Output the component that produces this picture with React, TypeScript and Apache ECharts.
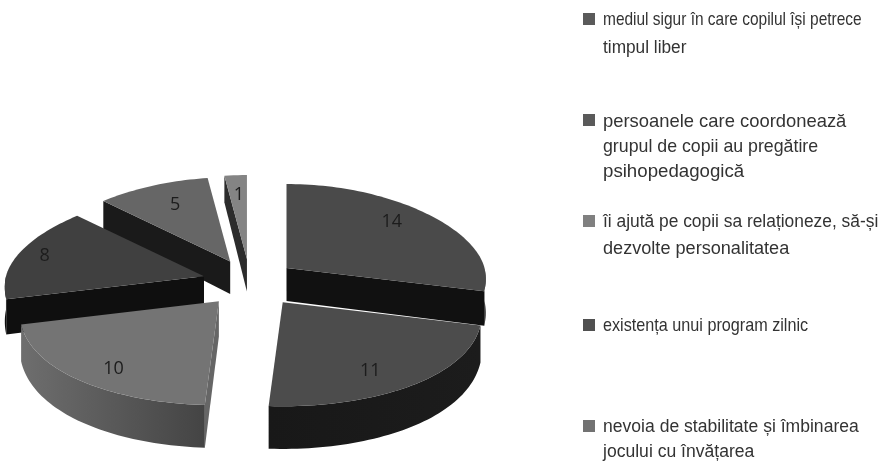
import React, { useEffect, useRef } from "react";
import * as echarts from "echarts";

const sliceValues = [14, 11, 10, 8, 5, 1];
const sliceLabels = ["14", "11", "10", "8", "5", "1"];
const topColors = ["#4a4a4a", "#4c4c4c", "#747474", "#404040", "#666666", "#848484"];
const faceColors = ["#111111", "#1a1a1a", "#666666", "#0f0f0f", "#1a1a1a", "#2c2c2c"];
const rimFrom = ["#141414", "#1c1c1c", "#444444", "#0f0f0f", "#1a1a1a", "#2c2c2c"];
const rimTo = ["#141414", "#181818", "#6e6e6e", "#0f0f0f", "#1a1a1a", "#2c2c2c"];
const paintRank = [3, 5, 4, 2, 1, 0];
const labelPullX = [0.68, 0.74, 0.82, 0.84, 0.64, 0.63];
const labelPullY = [0.92, 0.8, 0.83, 0.92, 0.77, 0.79];
const explodeNudgeX = [-1, 4, 0, 0, 1, 0];

const legendEntries = [
  ["mediul sigur în care copilul își petrece", "timpul liber"],
  ["persoanele care coordonează", "grupul de copii au pregătire", "psihopedagogică"],
  ["îi ajută pe copii sa relaționeze, să-și", "dezvolte personalitatea"],
  ["existența unui program zilnic"],
  ["nevoia de stabilitate și îmbinarea", "jocului cu învățarea"],
];
const legendColors = ["#5a5a5a", "#5a5a5a", "#808080", "#505050", "#727272"];
const legendFontSizes = [18, 18.5, 18.5, 18, 18.5];
const legendScales = [[0.86, 0.96], [0.995, 0.96, 1.01], [0.94, 0.98], [0.9], [0.95, 0.95]];
const legendTops = [19, 120, 221, 325, 426];
const legendSteps = [28, 25.5, 26, 0, 25];

const CX = 250, CY = 283, RX = 198, RY_BACK = 84, RY_FRONT = 104, EX = 48, EY = 24;
const PERSPECTIVE = 0.11;
const total = sliceValues.reduce((a, b) => a + b, 0);
const rad = (d: number) => (d * Math.PI) / 180;

function rimPoint(ax: number, ay: number, deg: number) {
  const c = Math.cos(rad(deg));
  const s = Math.sin(rad(deg));
  return [ax + RX * s * (1 - PERSPECTIVE * c), ay - (c > 0 ? RY_BACK : RY_FRONT) * c];
}
const lower = (p: number[]) => [p[0], p[1] + 33 + 0.07 * (p[1] - 268)];
function toPath(pts: number[][]) {
  return pts.map((p, i) => `${i ? "L" : "M"}${p[0].toFixed(2)} ${p[1].toFixed(2)}`).join(" ") + " Z";
}
function arc(ax: number, ay: number, a0: number, a1: number) {
  const pts: number[][] = [];
  const n = Math.max(2, Math.ceil(Math.abs(a1 - a0) / 1.5));
  for (let i = 0; i <= n; i++) pts.push(rimPoint(ax, ay, a0 + ((a1 - a0) * i) / n));
  return pts;
}

const renderItem = (params: any, api: any) => {
  const i = params.dataIndex;
  const value = api.value(0);
  let before = 0;
  for (let k = 0; k < i; k++) before += sliceValues[k];
  const a0 = (before / total) * 360;
  const a1 = ((before + value) / total) * 360;
  const mid = (a0 + a1) / 2;
  const ax = CX + EX * Math.sin(rad(mid)) + explodeNudgeX[i];
  const ay = CY - EY * Math.cos(rad(mid));
  const z = paintRank[i] * 10;
  const children: any[] = [];

  const face = (deg: number, fill: string) => {
    const p = rimPoint(ax, ay, deg);
    children.push({
      type: "path",
      shape: { pathData: toPath([[ax, ay], p, lower(p), lower([ax, ay])]) },
      style: { fill },
      z2: z + 1,
    });
  };
  if (a0 > 180) face(a0, faceColors[i]);
  if (a1 < 180) face(a1, faceColors[i]);

  const r0 = Math.max(a0, 90);
  const r1 = Math.min(a1, 270);
  if (r1 > r0) {
    const top = arc(ax, ay, r0, r1);
    const bottom = arc(ax, ay, r1, r0).map(lower);
    children.push({
      type: "path",
      shape: { pathData: toPath(top.concat(bottom)) },
      style: {
        fill: new echarts.graphic.LinearGradient(0, 0, 1, 0, [
          { offset: 0, color: rimTo[i] },
          { offset: 1, color: rimFrom[i] },
        ]),
      },
      z2: z + 2,
    });
  }

  children.push({
    type: "path",
    shape: { pathData: toPath([[ax, ay], ...arc(ax, ay, a0, a1)]) },
    style: { fill: topColors[i] },
    z2: z + 3,
  });
  const c = Math.cos(rad(mid));
  children.push({
    type: "text",
    style: {
      text: sliceLabels[i],
      x: ax + RX * labelPullX[i] * Math.sin(rad(mid)),
      y: ay - (c > 0 ? RY_BACK : RY_FRONT) * labelPullY[i] * c,
      fill: "#1c1c1c",
      font: '18px "Open Sans", sans-serif',
      align: "center",
      verticalAlign: "middle",
    },
    z2: 200,
  });
  return { type: "group", children };
};

function legendGraphics() {
  const out: any[] = [];
  legendEntries.forEach((lines, i) => {
    out.push({
      type: "rect",
      shape: { x: 583, y: legendTops[i] - 6, width: 12, height: 12 },
      style: { fill: legendColors[i] },
    });
    lines.forEach((line, j) => {
      out.push({
        type: "text",
        x: 603,
        y: legendTops[i] + j * legendSteps[i],
        scaleX: legendScales[i][j],
        style: {
          text: line,
          fill: "#333333",
          font: `${legendFontSizes[i]}px "Liberation Sans", Arial, sans-serif`,
          align: "left",
          verticalAlign: "middle",
        },
      });
    });
  });
  return out;
}

export default function App() {
  const ref = useRef<HTMLDivElement>(null);
  useEffect(() => {
    document.body.style.margin = "0";
    const chart = echarts.init(ref.current!, undefined, { renderer: "svg" });
    chart.setOption({
      animation: false,
      backgroundColor: "#ffffff",
      graphic: legendGraphics(),
      series: [
        {
          type: "custom",
          coordinateSystem: "none",
          renderItem,
          data: sliceValues.map((v) => [v]),
          silent: true,
        },
      ],
    });
    return () => chart.dispose();
  }, []);
  return <div ref={ref} style={{ width: 884, height: 462, filter: "blur(0.45px)" }} />;
}
